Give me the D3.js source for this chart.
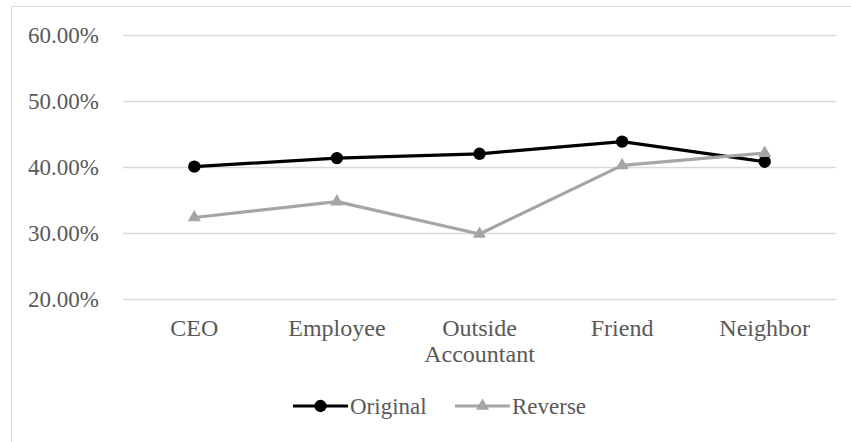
<!DOCTYPE html>
<html>
<head>
<meta charset="utf-8">
<script src="https://cdn.jsdelivr.net/npm/d3@7"></script>
<style>
  html, body { margin: 0; padding: 0; background: #fff; }
  svg text { font-family: "Liberation Serif", "Times New Roman", serif; fill: #595959; }
</style>
</head>
<body>
<svg id="chart" width="851" height="442"></svg>
<script>
// Share of respondents by who is asked, for the two question orderings
const categories = [["CEO"], ["Employee"], ["Outside", "Accountant"], ["Friend"], ["Neighbor"]];
const original = [0.4005, 0.4135, 0.4200, 0.4385, 0.4080];
const reverse = [0.3235, 0.3475, 0.2985, 0.4025, 0.4210];
const yTicks = [0.2, 0.3, 0.4, 0.5, 0.6];
const seriesNames = ["Original", "Reverse"];
const seriesColors = ["#000000", "#a5a5a5"];

const svg = d3.select("#chart");
const W = 851, H = 442;

// outer chart frame
svg.append("rect")
  .attr("x", 11.5).attr("y", 6.5)
  .attr("width", W + 20).attr("height", H + 20)
  .attr("fill", "none").attr("stroke", "#d9d9d9").attr("stroke-width", 1);

const plot = { left: 123, right: 836, top: 35, bottom: 299 };

const x = d3.scaleBand()
  .domain(d3.range(categories.length))
  .range([plot.left, plot.right])
  .paddingInner(0).paddingOuter(0);

const y = d3.scaleLinear()
  .domain([0.2, 0.6])
  .range([plot.bottom, plot.top]);

// horizontal gridlines
svg.append("g")
  .selectAll("line")
  .data(yTicks)
  .join("line")
  .attr("x1", plot.left).attr("x2", plot.right)
  .attr("y1", d => Math.round(y(d)) + 0.5).attr("y2", d => Math.round(y(d)) + 0.5)
  .attr("stroke", "#d9d9d9").attr("stroke-width", 1.5);

// y axis labels
const yAxis = d3.axisLeft(y).tickValues(yTicks)
  .tickFormat(d => (d * 100).toFixed(2) + "%")
  .tickSize(0).tickPadding(24);
const gy = svg.append("g").attr("transform", `translate(${plot.left},0)`).call(yAxis);
gy.select(".domain").remove();
gy.selectAll("text")
  .attr("font-size", 23)
  .attr("fill", "#595959")
  .attr("font-family", "Liberation Serif, Times New Roman, serif");

// category labels (multi-line)
const xl = svg.append("g");
categories.forEach((lines, i) => {
  const t = xl.append("text")
    .attr("x", x(i) + x.bandwidth() / 2)
    .attr("y", 336)
    .attr("text-anchor", "middle")
    .attr("font-size", 24);
  lines.forEach((s, j) => {
    t.append("tspan")
      .attr("x", x(i) + x.bandwidth() / 2)
      .attr("dy", j === 0 ? 0 : 26)
      .text(s);
  });
});

const cx = i => x(i) + x.bandwidth() / 2;
const line = d3.line().x((d, i) => cx(i)).y(d => y(d));

const circleSym = d3.symbol().type(d3.symbolCircle).size(120);
const triSym = d3.symbol().type(d3.symbolTriangle).size(75);

// Original series
svg.append("path").datum(original)
  .attr("d", line).attr("fill", "none")
  .attr("stroke", seriesColors[0]).attr("stroke-width", 3.2)
  .attr("stroke-linejoin", "round");
svg.append("g").selectAll("path").data(original).join("path")
  .attr("transform", (d, i) => `translate(${cx(i)},${y(d)})`)
  .attr("d", circleSym).attr("fill", seriesColors[0]);

// Reverse series
svg.append("path").datum(reverse)
  .attr("d", line).attr("fill", "none")
  .attr("stroke", seriesColors[1]).attr("stroke-width", 3.2)
  .attr("stroke-linejoin", "round");
svg.append("g").selectAll("path").data(reverse).join("path")
  .attr("transform", (d, i) => `translate(${cx(i)},${y(d)})`)
  .attr("d", triSym).attr("fill", seriesColors[1]);

// legend
const legendItems = [
  { name: seriesNames[0], color: seriesColors[0], sym: circleSym, x0: 293 },
  { name: seriesNames[1], color: seriesColors[1], sym: triSym, x0: 455 }
];
const lg = svg.append("g");
legendItems.forEach(it => {
  lg.append("line")
    .attr("x1", it.x0).attr("x2", it.x0 + 55)
    .attr("y1", 406).attr("y2", 406)
    .attr("stroke", it.color).attr("stroke-width", 3.2);
  lg.append("path")
    .attr("transform", `translate(${it.x0 + 27.5},406)`)
    .attr("d", it.sym).attr("fill", it.color);
  lg.append("text")
    .attr("x", it.x0 + 57).attr("y", 414)
    .attr("font-size", 23)
    .text(it.name);
});
</script>
</body>
</html>
